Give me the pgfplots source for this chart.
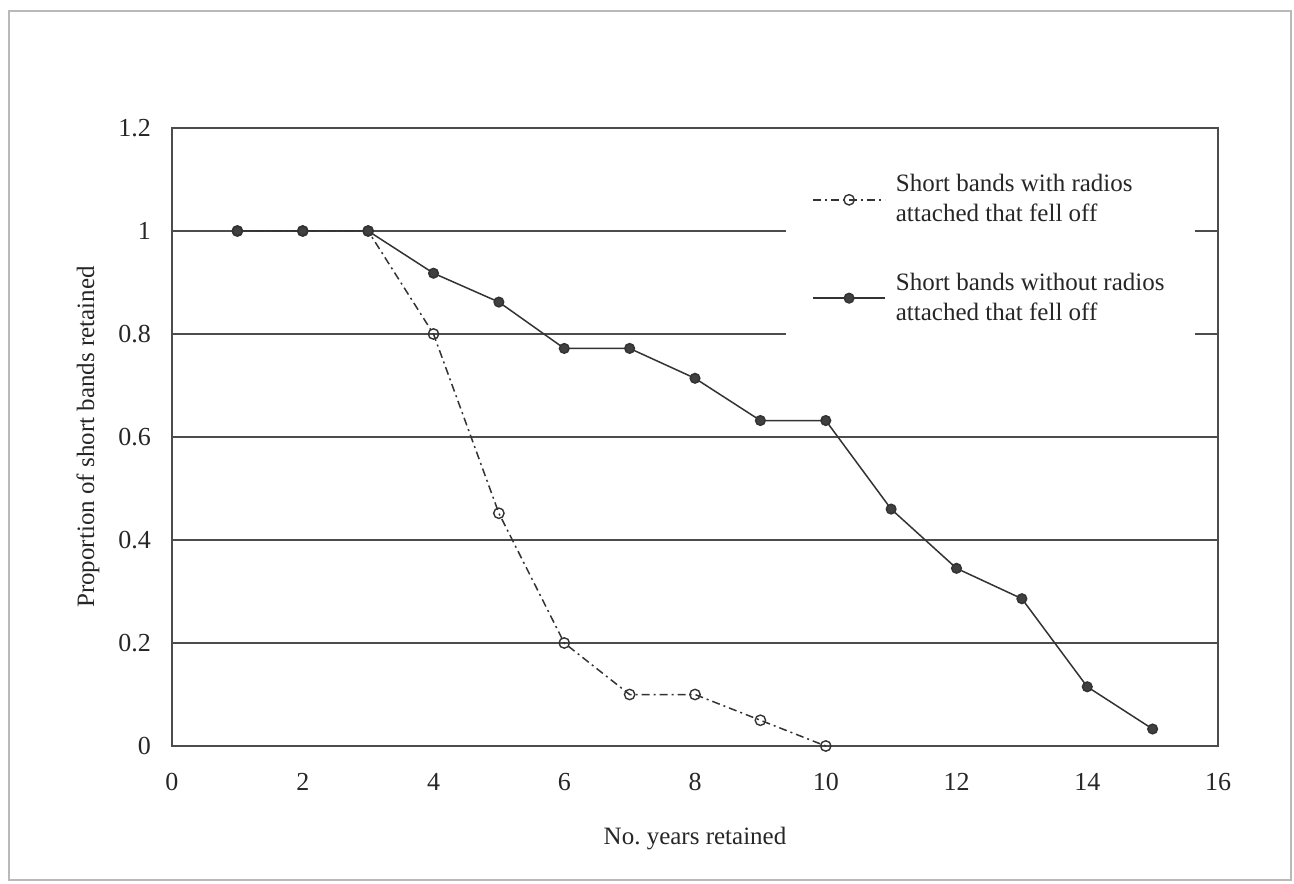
\documentclass[border=0pt]{standalone}
\usepackage{fontspec}
\setmainfont{Liberation Serif}
\usepackage{pgfplots}
\pgfplotsset{compat=1.18}
\begin{document}
\begin{tikzpicture}[x=1pt,y=1pt]
\useasboundingbox (-86,-68.5) rectangle (561,373);
\draw[gray!55, line width=0.9pt] (-81.5,-67) rectangle (559.5,367.5);
\begin{axis}[
  at={(0,0)}, anchor=south west,
  scale only axis, width=523pt, height=309pt,
  xmin=0, xmax=16, ymin=0, ymax=1.2,
  xtick={0,2,...,16}, ytick={0,0.2,0.4,0.6,0.8,1,1.2},
  ymajorgrids, major tick length=0pt,
  grid style={black!70, line width=0.6pt},
  axis line style={black!70, line width=0.6pt},
  tick label style={font=\fontsize{13}{15}\selectfont, text=black!85},
  /pgf/number format/assume math mode=true,
  yticklabel style={xshift=-7pt},
  xticklabel style={yshift=-10pt},
  xlabel={No.\ years retained},
  ylabel={Proportion of short bands retained},
  label style={font=\fontsize{12.5}{15}\selectfont, text=black!85},
  x label style={at={(axis description cs:0.5,-0.149)}, anchor=center},
  y label style={at={(axis description cs:-0.0803,0.5)}, anchor=center, rotate=0},
  legend style={at={(0.978,0.964)}, anchor=north east, draw=none, fill=white,
    font=\fontsize{12.5}{15}\selectfont, text=black!85,
    inner xsep=13pt, inner ysep=10pt, row sep=20pt, column sep=3pt},
  legend cell align=left,
  legend style={cells={align=left}},
  legend image code/.code={\draw[#1,mark repeat=2,mark phase=2] plot coordinates {(0pt,0pt)(18pt,0pt)(36pt,0pt)};},
]
\addplot[black!80, line width=0.75pt, dash pattern=on 4pt off 2pt on 1pt off 2pt,
  mark=o, mark size=2.6pt, mark options={solid, fill=white, draw=black!80, line width=0.7pt}]
  coordinates {(1,1)(2,1)(3,1)(4,0.8)(5,0.452)(6,0.2)(7,0.1)(8,0.1)(9,0.05)(10,0)};
\addlegendentry{Short bands with radios\\attached that fell off}
\addplot[black!80, line width=0.75pt, mark=*, mark size=2.4pt, mark options={solid, fill=black!75, draw=black!80}]
  coordinates {(1,1)(2,1)(3,1)(4,0.918)(5,0.862)(6,0.772)(7,0.772)(8,0.714)(9,0.632)(10,0.632)(11,0.46)(12,0.345)(13,0.286)(14,0.115)(15,0.033)};
\addlegendentry{Short bands without radios\\attached that fell off}
\end{axis}
\end{tikzpicture}
\end{document}
